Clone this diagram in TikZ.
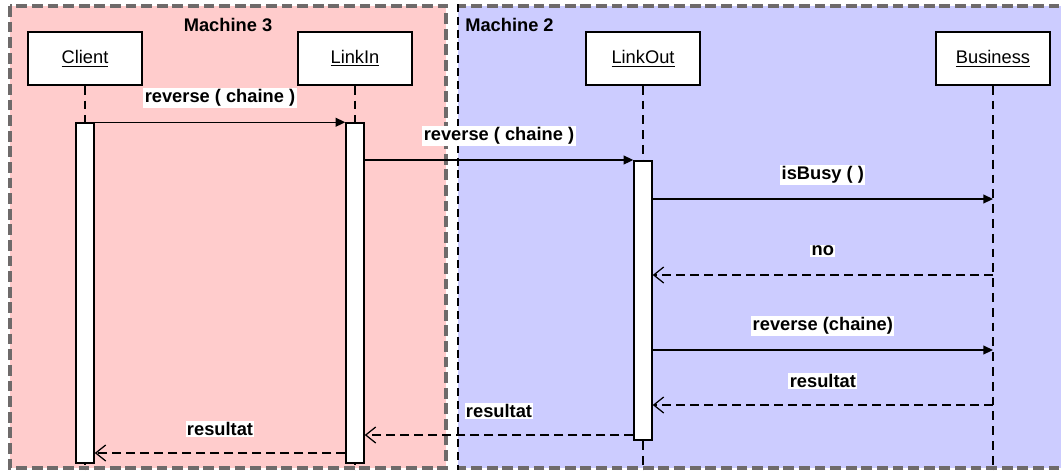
\documentclass[tikz,border=0pt]{standalone}
\usepackage{fontspec}
\setmainfont{Liberation Sans}
\usetikzlibrary{arrows.meta}

\definecolor{machinered}{RGB}{255,204,204}
\definecolor{machineblue}{RGB}{204,204,255}
\definecolor{bordergray}{RGB}{110,106,106}

\begin{document}
\begin{tikzpicture}[x=0.025cm, y=-0.025cm, font=\fontsize{13}{15}\selectfont,
		object/.style={draw, fill=white, line width=1pt, minimum width=2.85cm, minimum height=1.325cm, inner sep=0pt},
		activation/.style={draw, fill=white, line width=1pt, minimum width=0.45cm, inner sep=0pt},
		lifeline/.style={line width=0.85pt, dash pattern=on 0.22cm off 0.15cm},
		border/.style={bordergray, line width=2.2pt, dash pattern=on 0.27cm off 0.12cm},
		call/.style={line width=0.9pt, -{Triangle[length=0.24cm, width=0.22cm]}},
		reply/.style={line width=0.9pt, dash pattern=on 0.22cm off 0.13cm, -{Straight Barb[length=0.25cm, width=0.4cm]}},
		msg/.style={fill=white, inner sep=1pt, font=\fontsize{13}{15}\selectfont\bfseries, yshift=0.6cm}]
		\useasboundingbox (0, 0) rectangle (1061, 470);

		\fill [machinered] (10, 6) rectangle (446, 468);
		\draw [border] (10, 6) rectangle (446, 468);
		\fill [machineblue] (458, 6) rectangle (1075, 468);
		\draw [border] (1075, 6) -- (458, 6);
		\draw [border] (1075, 468) -- (458, 468);
		\draw [line width=0.8pt, dash pattern=on 0.2cm off 0.12cm] (458, 4) -- (458, 470);

		\node [font=\fontsize{13}{15}\selectfont\bfseries] (m3title) at (228, 25) {Machine 3};
		\node [font=\fontsize{13}{15}\selectfont\bfseries, anchor=west, inner sep=0pt] (m2title) at (465, 25) {Machine 2};

		\node [object] (client) at (85, 58.5) {\underline{Client}};
		\node [object] (linkin) at (355, 58.5) {\underline{LinkIn}};
		\node [object] (linkout) at (643, 58.5) {\underline{LinkOut}};
		\node [object] (business) at (993, 58.5) {\underline{Business}};

		\coordinate (bottom) at (0, 472);
		\draw [lifeline] (client) -- (client |- bottom);
		\draw [lifeline] (linkin) -- (linkin |- bottom);
		\draw [lifeline] (linkout) -- (linkout |- bottom);
		\draw [lifeline] (business) -- (business |- bottom);

		\node [activation, minimum height=8.5cm] (clientbar) at (85, 293) {};
		\node [activation, minimum height=8.5cm] (linkinbar) at (355, 293) {};
		\node [activation, minimum height=6.975cm] (linkoutbar) at (643, 300.5) {};

		\coordinate (m2) at (0, 160);
		\coordinate (m3) at (0, 199);
		\coordinate (m4) at (0, 275);
		\coordinate (m5) at (0, 350);
		\coordinate (m6) at (0, 405);
		\coordinate (m7) at (0, 435);
		\coordinate (m8) at (0, 453);

		\draw [call] (clientbar.north east) -- (linkinbar.north west) node [msg, midway] {reverse ( chaine )};
		\draw [call] (linkinbar.east |- m2) -- (linkoutbar.west |- m2) node [msg, midway] {reverse ( chaine )};
		\draw [call] (linkoutbar.east |- m3) -- (business |- m3) node [msg, midway] {isBusy ( )};
		\draw [reply] (business |- m4) -- (linkoutbar.east |- m4) node [msg, midway] {no};
		\draw [call] (linkoutbar.east |- m5) -- (business |- m5) node [msg, midway] {reverse (chaine)};
		\draw [reply] (business |- m6) -- (linkoutbar.east |- m6) node [msg, midway] {resultat};
		\draw [reply] (linkoutbar.west |- m7) -- (linkinbar.east |- m7) node [msg, midway] {resultat};
		\draw [reply] (linkinbar.west |- m8) -- (clientbar.east |- m8) node [msg, midway] {resultat};
	\end{tikzpicture}
\end{document}
